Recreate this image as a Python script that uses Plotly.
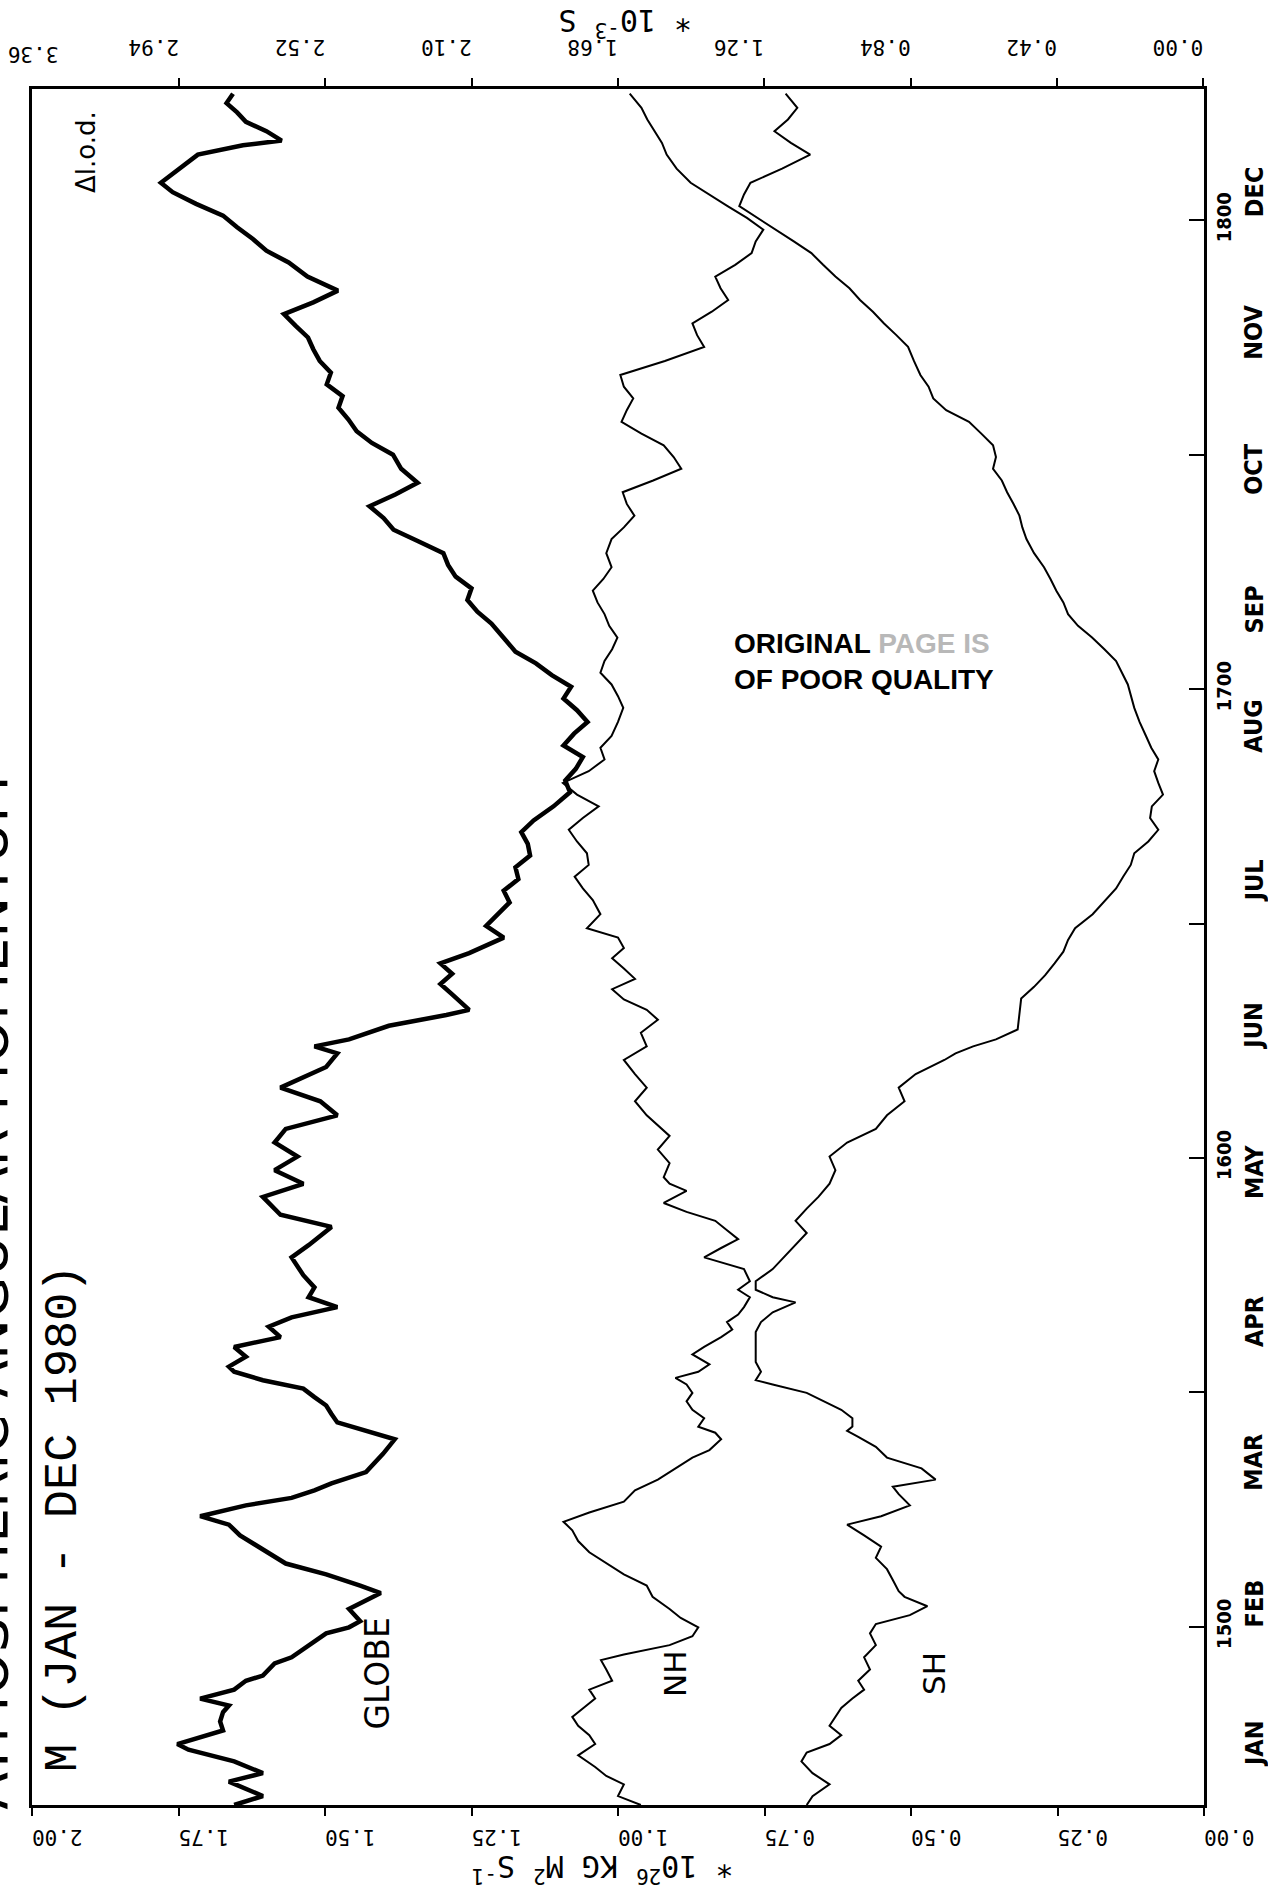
import plotly.graph_objects as go

# day count: 1462 = 1 Jan 1980 ... 1827 = 31 Dec 1980 (ticks 1500..1800)
globe_days = [1462.0, 1463.9, 1467.0, 1468.8, 1471.3, 1473.8, 1475.0, 1476.0, 1477.9, 1479.8,
              1481.8, 1483.2, 1484.7, 1486.6, 1488.5, 1489.6, 1492.2, 1493.5, 1496.1, 1498.6,
              1499.9, 1501.2, 1503.8, 1506.4, 1507.2, 1508.8, 1511.2, 1513.5, 1517.1, 1519.5,
              1521.8, 1523.6, 1525.9, 1527.5, 1529.1, 1530.6, 1533.0, 1536.9, 1540.0, 1541.8,
              1543.6, 1545.4, 1547.2, 1549.0, 1550.8, 1552.6, 1554.4, 1555.5, 1557.6, 1559.7,
              1561.8, 1564.0, 1566.0, 1568.2, 1570.3, 1572.4, 1575.0, 1578.8, 1581.4, 1585.3,
              1587.9, 1591.7, 1594.5, 1597.4, 1600.3, 1603.3, 1606.2, 1609.1, 1612.1, 1615.0,
              1619.4, 1622.3, 1623.8, 1625.3, 1628.2, 1630.5, 1631.6, 1634.9, 1637.1, 1639.3,
              1641.5, 1643.7, 1645.9, 1647.0, 1649.5, 1652.0, 1654.5, 1657.0, 1659.5, 1662.0,
              1664.5, 1667.0, 1669.5, 1672.0, 1675.0, 1678.0, 1680.5, 1683.0, 1685.5, 1688.0,
              1690.5, 1693.0, 1695.5, 1698.0, 1700.5, 1703.0, 1705.5, 1708.0, 1711.0, 1714.0,
              1716.5, 1719.0, 1721.5, 1724.0, 1726.5, 1729.0, 1731.5, 1734.0, 1736.5, 1739.0,
              1741.5, 1744.0, 1747.0, 1750.0, 1752.5, 1755.0, 1757.5, 1760.0, 1762.5, 1765.0,
              1767.5, 1770.0, 1772.5, 1775.0, 1777.5, 1780.0, 1782.5, 1785.0, 1788.0, 1791.0,
              1793.5, 1796.0, 1798.5, 1801.0, 1803.5, 1806.0, 1808.0, 1811.0, 1814.0, 1816.0,
              1817.0, 1819.0, 1821.0, 1823.0, 1825.0, 1827.0]
globe = [1.655, 1.606, 1.664, 1.606, 1.655, 1.733, 1.752, 1.723, 1.674, 1.679,
         1.674, 1.664, 1.713, 1.655, 1.635, 1.606, 1.586, 1.557, 1.528, 1.498,
         1.459, 1.440, 1.459, 1.420, 1.405, 1.440, 1.498, 1.567, 1.616, 1.645,
         1.664, 1.713, 1.635, 1.557, 1.518, 1.489, 1.430, 1.401, 1.381, 1.430,
         1.479, 1.489, 1.498, 1.518, 1.537, 1.606, 1.655, 1.664, 1.635, 1.655,
         1.576, 1.596, 1.557, 1.479, 1.528, 1.518, 1.537, 1.557, 1.528, 1.489,
         1.576, 1.606, 1.537, 1.586, 1.547, 1.586, 1.567, 1.479, 1.508, 1.576,
         1.498, 1.479, 1.518, 1.459, 1.391, 1.293, 1.254, 1.283, 1.303, 1.283,
         1.303, 1.254, 1.215, 1.195, 1.225, 1.205, 1.185, 1.195, 1.170, 1.175,
         1.150, 1.154, 1.165, 1.144, 1.110, 1.082, 1.090, 1.072, 1.060, 1.093,
         1.075, 1.052, 1.070, 1.093, 1.080, 1.113, 1.140, 1.175, 1.195, 1.216,
         1.240, 1.257, 1.250, 1.277, 1.290, 1.298, 1.340, 1.383, 1.400, 1.424,
         1.380, 1.342, 1.370, 1.384, 1.420, 1.446, 1.460, 1.477, 1.470, 1.497,
         1.490, 1.509, 1.520, 1.529, 1.550, 1.570, 1.520, 1.478, 1.530, 1.562,
         1.600, 1.623, 1.650, 1.674, 1.720, 1.760, 1.780, 1.750, 1.717, 1.640,
         1.574, 1.600, 1.635, 1.650, 1.668, 1.657]

nh_days = [1462.0, 1463.9, 1466.4, 1468.2, 1470.1, 1472.6, 1475.0, 1476.9, 1478.9, 1480.8,
           1482.7, 1484.7, 1486.6, 1488.5, 1490.9, 1492.9, 1494.1, 1496.1, 1498.0, 1499.9,
           1501.9, 1503.8, 1506.4, 1508.8, 1511.2, 1513.5, 1515.9, 1518.3, 1520.6, 1522.4,
           1524.4, 1526.7, 1529.1, 1531.4, 1533.8, 1536.1, 1537.7, 1540.0, 1541.4, 1542.7,
           1544.5, 1546.3, 1548.1, 1549.9, 1551.7, 1553.1, 1554.4, 1556.0, 1558.1, 1559.7,
           1561.8, 1563.4, 1565.0, 1566.6, 1568.2, 1570.3, 1571.9, 1573.7, 1576.3, 1578.8,
           1580.8, 1582.7, 1584.6, 1586.6, 1588.5, 1590.4, 1593.0, 1594.5, 1595.9, 1598.9,
           1601.8, 1604.7, 1609.1, 1612.1, 1615.0, 1617.9, 1620.9, 1623.8, 1626.7, 1629.5,
           1631.6, 1633.8, 1636.0, 1638.2, 1640.4, 1642.6, 1644.8, 1647.0, 1649.0, 1652.0,
           1655.0, 1657.5, 1660.0, 1662.5, 1665.0, 1667.5, 1670.0, 1672.5, 1675.0, 1677.5,
           1680.0, 1682.5, 1685.0, 1687.5, 1690.0, 1693.0, 1696.0, 1698.5, 1701.0, 1703.5,
           1706.0, 1708.5, 1711.0, 1713.5, 1716.0, 1718.5, 1721.0, 1723.5, 1726.0, 1729.0,
           1732.0, 1734.5, 1737.0, 1739.5, 1742.0, 1744.5, 1747.0, 1749.5, 1752.0, 1754.5,
           1757.0, 1759.5, 1762.0, 1764.5, 1767.0, 1770.0, 1773.0, 1775.5, 1778.0, 1780.5,
           1783.0, 1785.5, 1788.0, 1790.5, 1793.0, 1795.5, 1798.0, 1800.5, 1803.0, 1805.5,
           1808.0, 1811.0, 1814.0, 1816.5, 1819.0, 1821.5, 1824.0, 1827.0]
nh = [0.961, 1.000, 0.990, 1.020, 1.039, 1.068, 1.039, 1.049, 1.068, 1.078,
      1.059, 1.039, 1.049, 1.010, 1.020, 1.029, 0.990, 0.912, 0.873, 0.863,
      0.893, 0.912, 0.941, 0.951, 0.990, 1.020, 1.049, 1.068, 1.078, 1.093,
      1.049, 0.990, 0.971, 0.932, 0.902, 0.873, 0.844, 0.824, 0.834, 0.863,
      0.853, 0.873, 0.883, 0.873, 0.883, 0.902, 0.863, 0.844, 0.873, 0.853,
      0.824, 0.805, 0.814, 0.795, 0.785, 0.775, 0.795, 0.775, 0.785, 0.853,
      0.824, 0.795, 0.814, 0.834, 0.883, 0.922, 0.883, 0.912, 0.922, 0.912,
      0.932, 0.912, 0.951, 0.971, 0.951, 0.971, 0.990, 0.951, 0.961, 0.932,
      0.951, 0.990, 1.010, 0.971, 0.990, 1.010, 0.990, 1.000, 1.053, 1.030,
      1.043, 1.060, 1.074, 1.050, 1.053, 1.070, 1.084, 1.060, 1.033, 1.070,
      1.094, 1.050, 1.023, 1.030, 1.011, 1.000, 0.991, 1.000, 1.011, 1.030,
      1.023, 1.010, 1.001, 1.015, 1.023, 1.035, 1.043, 1.025, 1.011, 1.020,
      1.011, 0.990, 0.972, 0.985, 0.992, 0.940, 0.892, 0.905, 0.922, 0.960,
      0.994, 0.985, 0.974, 0.990, 0.996, 0.920, 0.853, 0.865, 0.873, 0.840,
      0.812, 0.825, 0.834, 0.800, 0.772, 0.765, 0.752, 0.780, 0.813, 0.845,
      0.876, 0.900, 0.917, 0.925, 0.938, 0.950, 0.960, 0.980]

sh_days = [1462.0, 1463.9, 1466.4, 1468.8, 1471.3, 1473.2, 1475.0, 1476.9, 1478.9, 1480.8,
           1482.7, 1484.7, 1486.6, 1488.5, 1490.9, 1493.5, 1496.1, 1498.6, 1500.6, 1502.5,
           1504.4, 1506.4, 1507.6, 1510.0, 1512.3, 1514.7, 1517.1, 1519.5, 1521.2, 1521.8,
           1523.6, 1525.9, 1528.3, 1529.9, 1531.4, 1533.8, 1536.1, 1538.4, 1540.5, 1541.8,
           1542.7, 1544.5, 1546.3, 1548.1, 1549.9, 1551.7, 1552.6, 1554.4, 1556.5, 1558.6,
           1560.8, 1562.9, 1565.0, 1567.1, 1569.2, 1570.3, 1571.9, 1573.7, 1576.3, 1578.8,
           1581.4, 1584.0, 1586.6, 1589.2, 1591.7, 1594.5, 1597.4, 1600.3, 1603.3, 1606.2,
           1609.1, 1612.1, 1615.0, 1617.9, 1620.9, 1622.3, 1623.8, 1625.3, 1627.4, 1634.0,
           1636.5, 1639.0, 1641.5, 1644.0, 1646.5, 1649.0, 1652.0, 1655.0, 1657.5, 1660.0,
           1662.5, 1665.0, 1667.5, 1670.0, 1672.5, 1675.0, 1677.5, 1680.0, 1682.5, 1685.0,
           1687.5, 1690.0, 1693.0, 1696.0, 1698.5, 1701.0, 1703.5, 1706.0, 1708.5, 1711.0,
           1713.5, 1716.0, 1718.5, 1721.0, 1723.5, 1726.0, 1729.0, 1732.0, 1734.5, 1737.0,
           1739.5, 1742.0, 1744.5, 1747.0, 1749.5, 1752.0, 1754.5, 1757.0, 1759.5, 1762.0,
           1764.5, 1767.0, 1770.0, 1773.0, 1775.5, 1778.0, 1780.5, 1783.0, 1785.5, 1788.0,
           1790.5, 1793.0, 1795.5, 1798.0, 1800.5, 1803.0, 1805.5, 1808.0, 1811.0, 1814.0,
           1816.5, 1819.0, 1821.5, 1824.0, 1827.0]
sh = [0.678, 0.668, 0.639, 0.668, 0.687, 0.678, 0.639, 0.619, 0.639, 0.629,
      0.619, 0.600, 0.580, 0.590, 0.570, 0.580, 0.560, 0.570, 0.560, 0.502,
      0.472, 0.511, 0.521, 0.531, 0.541, 0.560, 0.551, 0.580, 0.600, 0.609,
      0.551, 0.502, 0.521, 0.531, 0.458, 0.482, 0.541, 0.560, 0.590, 0.609,
      0.600, 0.600, 0.619, 0.648, 0.678, 0.736, 0.765, 0.756, 0.765, 0.765,
      0.765, 0.765, 0.756, 0.736, 0.697, 0.736, 0.765, 0.765, 0.736, 0.717,
      0.697, 0.678, 0.697, 0.678, 0.658, 0.639, 0.629, 0.639, 0.609, 0.560,
      0.541, 0.511, 0.521, 0.492, 0.443, 0.424, 0.394, 0.355, 0.318, 0.312,
      0.290, 0.271, 0.255, 0.240, 0.232, 0.220, 0.190, 0.169, 0.150, 0.138,
      0.125, 0.119, 0.095, 0.078, 0.092, 0.089, 0.070, 0.078, 0.085, 0.078,
      0.090, 0.099, 0.110, 0.119, 0.125, 0.130, 0.140, 0.150, 0.170, 0.191,
      0.215, 0.232, 0.240, 0.252, 0.262, 0.273, 0.290, 0.303, 0.310, 0.315,
      0.325, 0.336, 0.345, 0.360, 0.355, 0.360, 0.380, 0.401, 0.440, 0.462,
      0.470, 0.484, 0.495, 0.505, 0.525, 0.546, 0.565, 0.587, 0.605, 0.629,
      0.650, 0.670, 0.700, 0.731, 0.760, 0.793, 0.785, 0.774, 0.720, 0.672,
      0.705, 0.733, 0.710, 0.694, 0.714]

m_ticks = [0.0, 0.25, 0.5, 0.75, 1.0, 1.25, 1.5, 1.75, 2.0]
m_labels = ["0.00", "0.25", "0.50", "0.75", "1.00", "1.25", "1.50", "1.75", "2.00"]
lod_ticks = [0.0, 0.42, 0.84, 1.26, 1.68, 2.10, 2.52, 2.94, 3.36]
lod_labels = ["0.00", "0.42", "0.84", "1.26", "1.68", "2.10", "2.52", "2.94", "3.36"]
day_ticks = [1500, 1550, 1600, 1650, 1700, 1750, 1800]
day_labels = ["1500", "", "1600", "", "1700", "", "1800"]
months = ["JAN", "FEB", "MAR", "APR", "MAY", "JUN", "JUL", "AUG", "SEP", "OCT", "NOV", "DEC"]
month_pos = [1475, 1505, 1535, 1565, 1597, 1628, 1659, 1692, 1717, 1747, 1776, 1806]

W, H = 1268, 1887
L, R, T, B = 32, 1204, 89, 1805

fig = go.Figure()
fig.add_trace(go.Scatter(x=globe, y=globe_days, mode="lines",
                         line=dict(color="black", width=4.5), showlegend=False))
fig.add_trace(go.Scatter(x=nh, y=nh_days, mode="lines",
                         line=dict(color="black", width=2), showlegend=False))
fig.add_trace(go.Scatter(x=sh, y=sh_days, mode="lines",
                         line=dict(color="black", width=2), showlegend=False))
fig.add_trace(go.Scatter(x=[None], y=[None], xaxis="x2", yaxis="y", showlegend=False))

mono = "DejaVu Sans Mono"
lmono = "Liberation Mono"
cond = "DejaVu Sans Condensed"
sans = "DejaVu Sans"
tickfont = dict(family=mono, size=21, color="black")

fig.update_layout(
    width=W, height=H,
    margin=dict(l=L, r=W - R, t=T, b=H - B),
    paper_bgcolor="white", plot_bgcolor="white",
    xaxis=dict(range=[2.0, 0.0], tickvals=m_ticks, ticktext=m_labels, tickangle=180,
               ticks="outside", ticklen=8, tickwidth=2, tickcolor="black", ticklabelstandoff=10,
               showline=True, linewidth=2.5, linecolor="black", showgrid=False, zeroline=False,
               tickfont=tickfont),
    xaxis2=dict(range=[3.362, -0.002], overlaying="x", side="top", anchor="y",
                tickvals=lod_ticks[:-1], ticktext=lod_labels[:-1], tickangle=180,
                ticks="outside", ticklen=8, tickwidth=2, tickcolor="black", ticklabelstandoff=9,
                showline=True, linewidth=2.5, linecolor="black", showgrid=False, zeroline=False,
                tickfont=tickfont),
    yaxis=dict(range=[1462, 1828], side="right", tickvals=day_ticks, ticktext=day_labels,
               tickangle=-90, ticks="inside", ticklen=15, tickwidth=2, tickcolor="black",
               showline=True, mirror=True, linewidth=2.5, linecolor="black",
               showgrid=False, zeroline=False,
               tickfont=dict(family=cond, size=20, color="black", weight="bold")),
)

ann = []
for mname, mp in zip(months, month_pos):
    ann.append(dict(text=mname, x=1, xref="paper", xanchor="center", xshift=50,
                    y=mp, yref="y", yanchor="middle", textangle=-90, showarrow=False,
                    font=dict(family=cond, size=25, color="black", weight="bold")))
ann += [
    # end label of the top (length-of-day) axis, at its left end
    dict(text=lod_labels[-1], x=lod_ticks[-1], xref="x2", y=1, yref="paper",
         xanchor="center", yanchor="middle", yshift=35, textangle=180, showarrow=False,
         font=tickfont),
    dict(text="ATMOSPHERIC ANGULAR MOMENTUM", x=0, xref="paper", xanchor="center", xshift=-44,
         y=-0.004, yref="paper", yanchor="bottom", textangle=-90, showarrow=False,
         font=dict(family=sans, size=55, color="black")),
    dict(text="M (JAN - DEC 1980)", x=0, xref="paper", xanchor="center", xshift=31,
         y=0.018, yref="paper", yanchor="bottom", textangle=-90, showarrow=False,
         font=dict(family=lmono, size=47, color="black")),
    dict(text="\u0394l.o.d.", x=0, xref="paper", xanchor="center", xshift=54,
         y=1, yref="paper", yanchor="top", yshift=-20, textangle=-90, showarrow=False,
         font=dict(family=sans, size=26, color="black")),
    dict(text="GLOBE", x=1.41, xref="x", y=1490, yref="y", textangle=-90, showarrow=False,
         font=dict(family=sans, size=33, color="black")),
    dict(text="NH", x=0.904, xref="x", y=1490, yref="y", textangle=-90, showarrow=False,
         font=dict(family=sans, size=31, color="black")),
    dict(text="SH", x=0.462, xref="x", y=1490, yref="y", textangle=-90, showarrow=False,
         font=dict(family=sans, size=31, color="black")),
    dict(text="<b>ORIGINAL <span style='color:#b8b8b8'>PAGE IS</span><br>OF POOR QUALITY</b>",
         x=0.58, xref="x", y=1706, yref="y", showarrow=False, align="left",
         font=dict(family="Liberation Sans", size=28, color="black")),
    dict(text="* 10<sup>26</sup> KG M<sup>2</sup> S<sup>-1</sup>", x=0.487, xref="paper",
         xanchor="center", y=0, yref="paper", yanchor="middle", yshift=-64,
         textangle=180, showarrow=False, font=dict(family=mono, size=30, color="black")),
    dict(text="* 10<sup>-3</sup> S", x=0.506, xref="paper", xanchor="center",
         y=1, yref="paper", yanchor="middle", yshift=66,
         textangle=180, showarrow=False, font=dict(family=mono, size=30, color="black")),
]
fig.update_layout(annotations=ann)
fig.write_html("out.html")
